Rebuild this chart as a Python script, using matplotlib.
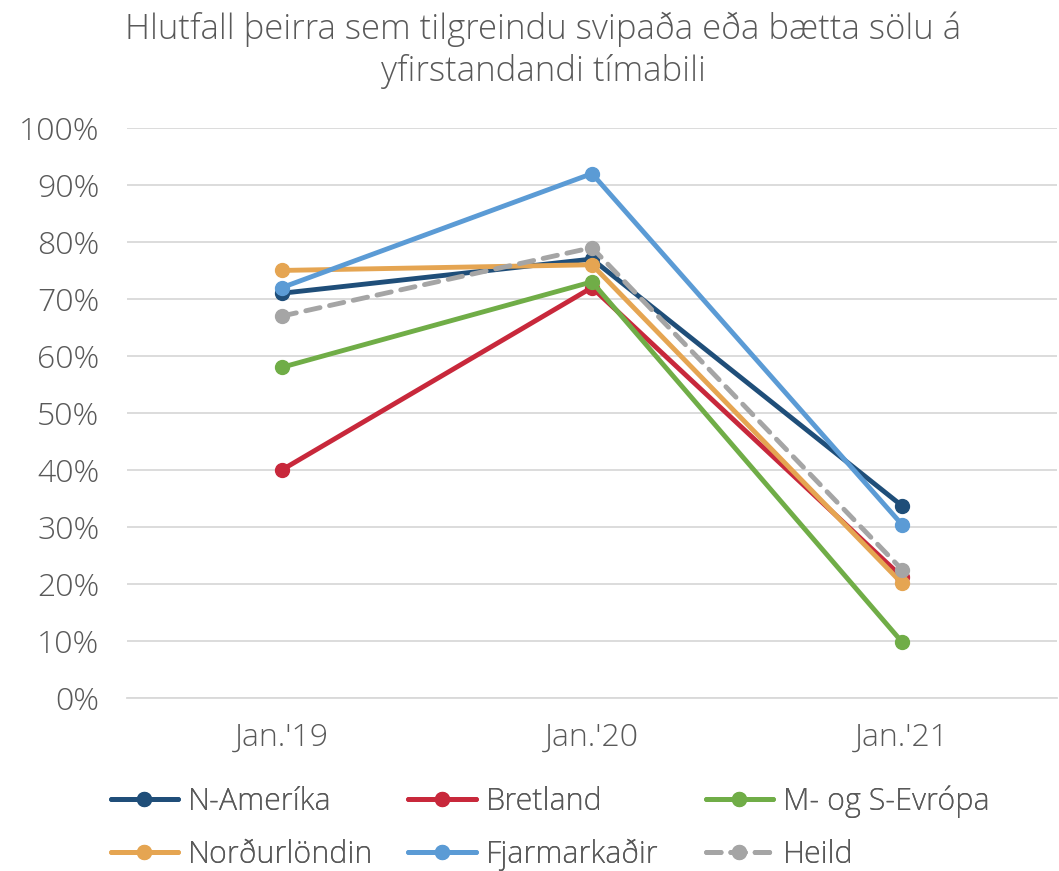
import matplotlib
matplotlib.use("Agg")
import matplotlib.pyplot as plt
from matplotlib.ticker import PercentFormatter

categories = ["Jan.'19", "Jan.'20", "Jan.'21"]
n_amerika = [71, 77, 33.7]
bretland = [40, 72, 21.2]
m_og_s_evropa = [58, 73, 9.8]
nordurlondin = [75, 76, 20.1]
fjarmarkadir = [72, 92, 30.4]
heild = [67, 79, 22.5]

series = [
    ("N-Ameríka", n_amerika, "#1F4E79", "-"),
    ("Bretland", bretland, "#C8283B", "-"),
    ("M- og S-Evrópa", m_og_s_evropa, "#70AD47", "-"),
    ("Norðurlöndin", nordurlondin, "#E5A552", "-"),
    ("Fjarmarkaðir", fjarmarkadir, "#5B9BD5", "-"),
    ("Heild", heild, "#A5A5A5", (0, (3, 2))),
]

plt.rcParams['font.family'] = ['Open Sans', 'DejaVu Sans']
plt.rcParams['font.weight'] = 'light'
txt = "#595959"

fig = plt.figure(figsize=(10.59, 8.71), dpi=100)
ax = fig.add_axes([0.12, 0.199, 0.878, 0.654])

x = list(range(len(categories)))
handles = []
for name, vals, col, ls in series:
    h, = ax.plot(x, vals, color=col, linestyle=ls, linewidth=3.5, marker='o',
                 markersize=10, label=name, solid_capstyle='round', dash_capstyle='round')
    handles.append(h)

ax.set_xlim(-0.5, 2.5)
ax.set_ylim(0, 100)
ax.set_yticks(range(0, 101, 10))
ax.yaxis.set_major_formatter(PercentFormatter(decimals=0))
ax.set_xticks(x)
ax.set_xticklabels(categories)
ax.grid(axis='y', color='#D9D9D9', linewidth=1.3)
ax.set_axisbelow(True)
for s in ax.spines.values():
    s.set_visible(False)
ax.spines['bottom'].set_visible(True)
ax.spines['bottom'].set_color('#D9D9D9')
ax.spines['bottom'].set_linewidth(1.3)
ax.tick_params(axis='both', length=0, labelsize=23, colors=txt)
ax.tick_params(axis='x', pad=17)
ax.tick_params(axis='y', pad=20)
for lab in ax.get_xticklabels() + ax.get_yticklabels():
    lab.set_fontweight('light')

fig.text(0.513, 0.942, "Hlutfall þeirra sem tilgreindu svipaða eða bætta sölu á\nyfirstandandi tímabili",
         ha='center', va='center', fontsize=25, color=txt, linespacing=1.25, fontweight='light')

col_x = [0.093, 0.374, 0.655]
for i, cx in enumerate(col_x):
    hs = [handles[i], handles[i + 3]]
    leg = fig.legend(handles=hs, labels=[h.get_label() for h in hs],
                     loc='lower left', bbox_to_anchor=(cx, -0.014), ncol=1, frameon=False,
                     fontsize=22, labelcolor=txt, handlelength=2.2, handletextpad=0.33,
                     labelspacing=0.68, borderaxespad=0.0)
    for t in leg.get_texts():
        t.set_fontweight('light')
    fig.add_artist(leg)

fig.savefig("out.png", dpi=100)
